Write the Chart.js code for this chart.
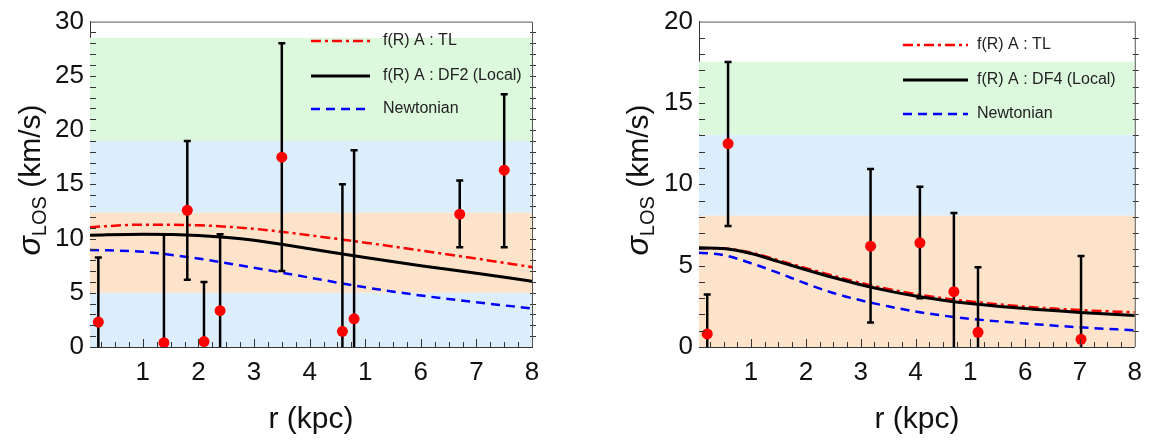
<!DOCTYPE html>
<html>
<head>
<meta charset="utf-8">
<script src="https://cdn.jsdelivr.net/npm/chart.js@4"></script>
<style>
  body { margin: 0; background: #fff; }
  #wrap { position: relative; width: 1152px; height: 446px; }
  canvas { position: absolute; top: 0; }
</style>
</head>
<body>
<div id="wrap">
  <canvas id="left" width="576" height="446" style="left:0"></canvas>
  <canvas id="right" width="576" height="446" style="left:576px"></canvas>
</div>
<script>
// x ticks (the 5 kpc tick carries the label "1")
const xTickValues = [1, 2, 3, 4, 5, 6, 7, 8];
const xTickLabels = ['1', '2', '3', '4', '1', '6', '7', '8'];

// ---- left panel ----
const leftR = [0.2, 1.38, 1.8, 2.1, 2.39, 3.5, 4.59, 4.8, 6.7, 7.5];
const leftSigma = [2.3, 0.4, 12.6, 0.5, 3.35, 17.5, 1.45, 2.6, 12.25, 16.3];
const leftLo = [0, 0, 6.2, 0, 0, 7.0, 0, 0, 9.2, 9.2];
const leftHi = [8.25, 10.4, 19.0, 6.0, 10.4, 28.0, 15.0, 18.15, 15.35, 23.3];

const leftCurveR = [0.05, 1, 2, 3, 4, 5, 6, 7, 8];
const leftTL = [11.05, 11.28, 11.22, 10.9, 10.3, 9.62, 8.9, 8.15, 7.37];
const leftDF2 = [10.3, 10.4, 10.28, 9.85, 9.05, 8.25, 7.5, 6.8, 6.07];
const leftNewton = [8.95, 8.78, 8.15, 7.3, 6.4, 5.5, 4.75, 4.12, 3.55];

const leftBandEdges = [0, 5, 12.4, 19, 28.5];

// ---- right panel ----
const rightR = [0.2, 0.58, 3.18, 4.08, 4.7, 5.14, 7.02];
const rightSigma = [0.8, 12.5, 6.2, 6.4, 3.4, 0.9, 0.47];
const rightLo = [0, 7.43, 1.5, 3.0, 0, 0, 0];
const rightHi = [3.22, 17.52, 10.94, 9.85, 8.24, 4.9, 5.6];

const rightCurveR = [0.05, 0.5, 1, 1.5, 2, 2.5, 3, 3.5, 4, 4.5, 5, 6, 7, 8];
const rightTL = [6.08, 6.05, 5.8, 5.33, 4.85, 4.38, 3.94, 3.56, 3.25, 3.0, 2.8, 2.48, 2.27, 2.13];
const rightDF4 = [6.1, 6.05, 5.75, 5.25, 4.75, 4.27, 3.83, 3.45, 3.13, 2.88, 2.68, 2.36, 2.12, 1.93];
const rightNewton = [5.8, 5.65, 5.15, 4.55, 3.9, 3.32, 2.87, 2.5, 2.18, 1.93, 1.73, 1.45, 1.21, 1.03];

const rightBandEdges = [0, 8.08, 13.05, 17.54];

const GREEN = '#ddf9dd', BLUE = '#dcedfc', ORANGE = '#fde3ca';
const FONT = '"Liberation Sans", Arial, Helvetica, sans-serif';

const pts = (xs, ys) => xs.map((x, i) => ({ x: x, y: ys[i] }));

// bands, error bars, inner ticks, frame, legend and the y title
const panelDecor = {
    id: 'panelDecor',
    beforeDatasetsDraw(chart, args, opts) {
        const { ctx, chartArea: a, scales: { y } } = chart;
        ctx.save();
        for (let i = 0; i < opts.bandEdges.length - 1; i++) {
            const top = y.getPixelForValue(opts.bandEdges[i + 1]);
            const bot = y.getPixelForValue(opts.bandEdges[i]);
            ctx.fillStyle = opts.bandColors[i];
            ctx.fillRect(a.left, top, a.right - a.left, bot - top);
        }
        ctx.restore();
    },
    beforeDatasetDraw(chart, args) {
        const ds = chart.data.datasets[args.index];
        if (!ds.errHi) return;
        const { ctx, chartArea: a, scales: { x, y } } = chart;
        ctx.save();
        ctx.beginPath();
        ctx.rect(a.left, a.top, a.right - a.left, a.bottom - a.top);
        ctx.clip();
        ctx.strokeStyle = '#000';
        ctx.lineWidth = 2.5;
        ds.data.forEach((p, i) => {
            const px = x.getPixelForValue(p.x);
            const top = y.getPixelForValue(ds.errHi[i]);
            const bot = y.getPixelForValue(ds.errLo[i]);
            ctx.beginPath();
            ctx.moveTo(px, top);
            ctx.lineTo(px, bot);
            ctx.moveTo(px - 3.5, top);
            ctx.lineTo(px + 3.5, top);
            if (ds.errLo[i] > 0) {
                ctx.moveTo(px - 3.5, bot);
                ctx.lineTo(px + 3.5, bot);
            }
            ctx.stroke();
        });
        ctx.restore();
    },
    afterDatasetsDraw(chart, args, opts) {
        const { ctx, chartArea: a, scales: { x, y } } = chart;
        ctx.save();
        ctx.strokeStyle = '#333';
        ctx.lineWidth = 1;
        // minor/major ticks on the bottom axis
        ctx.beginPath();
        for (let v = 0.25; v < x.max; v += 0.25) {
            const px = Math.round(x.getPixelForValue(v)) + 0.5;
            const len = Math.abs(v - Math.round(v)) < 1e-6 ? 8 : 5;
            ctx.moveTo(px, a.bottom);
            ctx.lineTo(px, a.bottom - len);
        }
        // ticks on the left (inside) and right (across) axes
        for (let v = 1; v < y.max; v += 1) {
            const py = Math.round(y.getPixelForValue(v)) + 0.5;
            ctx.moveTo(a.left, py);
            ctx.lineTo(a.left + 6, py);
            ctx.moveTo(a.right - 2, py);
            ctx.lineTo(a.right + 4, py);
        }
        ctx.stroke();
        // top and right frame
        ctx.strokeStyle = '#555';
        ctx.beginPath();
        ctx.moveTo(a.left, a.top + 0.5);
        ctx.lineTo(a.right + 0.5, a.top + 0.5);
        ctx.lineTo(a.right + 0.5, a.bottom);
        ctx.stroke();

        // legend
        const lg = opts.legend;
        ctx.font = '16px ' + FONT;
        ctx.textBaseline = 'middle';
        lg.items.forEach((it, i) => {
            const ly = lg.rows[i];
            ctx.strokeStyle = it.color;
            ctx.lineWidth = it.width;
            ctx.setLineDash(it.dash);
            ctx.beginPath();
            ctx.moveTo(lg.x0, ly);
            ctx.lineTo(lg.x1, ly);
            ctx.stroke();
            ctx.setLineDash([]);
            ctx.fillStyle = '#222';
            ctx.fillText(it.label, lg.textX, ly);
        });

        // y title: sigma with LOS subscript
        const t = opts.yTitle;
        ctx.translate(t.x, t.y);
        ctx.rotate(-Math.PI / 2);
        const fSig = 'italic 32px ' + FONT, fSub = '20px ' + FONT, fMain = '30px ' + FONT;
        ctx.font = fSig; const w1 = ctx.measureText('σ').width;
        ctx.font = fSub; const w2 = ctx.measureText('LOS').width;
        ctx.font = fMain; const w3 = ctx.measureText(' (km/s)').width;
        let cx = -(w1 + w2 + w3) / 2;
        ctx.fillStyle = '#111';
        ctx.textBaseline = 'alphabetic';
        ctx.font = fSig; ctx.fillText('σ', cx, 10); cx += w1;
        ctx.font = fSub; ctx.fillText('LOS', cx, 16); cx += w2;
        ctx.font = fMain; ctx.fillText(' (km/s)', cx, 10);
        ctx.restore();
    }
};

function makePanel(id, d) {
    return new Chart(id, {
        type: 'scatter',
        data: {
            datasets: [
                {
                    label: 'data',
                    data: pts(d.r, d.sigma),
                    errLo: d.lo,
                    errHi: d.hi,
                    pointRadius: 5.5,
                    pointBackgroundColor: '#ff0000',
                    pointBorderWidth: 0,
                    showLine: false
                },
                {
                    label: d.names[1],
                    data: pts(d.curveR, d.model),
                    showLine: true,
                    borderColor: '#000',
                    borderWidth: 3,
                    pointRadius: 0,
                    cubicInterpolationMode: 'monotone'
                },
                {
                    label: d.names[0],
                    data: pts(d.curveR, d.tl),
                    showLine: true,
                    borderColor: '#ff0000',
                    borderWidth: 2.5,
                    borderDash: [10, 4, 3, 4],
                    pointRadius: 0,
                    cubicInterpolationMode: 'monotone'
                },
                {
                    label: d.names[2],
                    data: pts(d.curveR, d.newton),
                    showLine: true,
                    borderColor: '#0000ff',
                    borderWidth: 2.5,
                    borderDash: [9, 6],
                    pointRadius: 0,
                    cubicInterpolationMode: 'monotone'
                }
            ]
        },
        options: {
            responsive: false,
            animation: false,
            events: [],
            layout: { padding: { top: 16, right: d.padRight, bottom: 0, left: 0 } },
            plugins: {
                legend: { display: false },
                tooltip: { enabled: false },
                panelDecor: {
                    bandEdges: d.bandEdges,
                    bandColors: d.bandColors,
                    legend: {
                        x0: d.legendX0, x1: d.legendX1, textX: d.legendTextX, rows: d.legendRows,
                        items: [
                            { label: d.names[0], color: '#ff0000', width: 2.5, dash: [10, 4, 3, 4] },
                            { label: d.names[1], color: '#000', width: 3, dash: [] },
                            { label: d.names[2], color: '#0000ff', width: 2.5, dash: [9, 6] }
                        ]
                    },
                    yTitle: d.yTitle
                }
            },
            scales: {
                x: {
                    type: 'linear',
                    min: 0.05,
                    max: 8,
                    grid: { display: false, drawTicks: false },
                    border: { display: true, color: '#333', width: 1 },
                    afterBuildTicks: s => { s.ticks = xTickValues.map(v => ({ value: v })); },
                    afterFit: s => { s.height = 99; },
                    ticks: {
                        padding: 10,
                        color: '#111',
                        font: { family: FONT, size: 26 },
                        callback: v => xTickLabels[xTickValues.indexOf(v)]
                    },
                    title: {
                        display: true,
                        text: 'r (kpc)',
                        color: '#111',
                        font: { family: FONT, size: 30 },
                        padding: { top: 0, bottom: 8 }
                    }
                },
                y: {
                    min: 0,
                    max: d.yMax,
                    grid: { display: false, drawTicks: false },
                    border: { display: true, color: '#333', width: 1 },
                    afterFit: s => { s.width = d.axisWidth; },
                    ticks: {
                        stepSize: 5,
                        padding: 6,
                        color: '#111',
                        font: { family: FONT, size: 26 }
                    }
                }
            }
        },
        plugins: [panelDecor]
    });
}

makePanel('left', {
    r: leftR, sigma: leftSigma, lo: leftLo, hi: leftHi,
    curveR: leftCurveR, tl: leftTL, model: leftDF2, newton: leftNewton,
    names: ['f(R) A : TL', 'f(R) A : DF2 (Local)', 'Newtonian'],
    bandEdges: leftBandEdges, bandColors: [BLUE, ORANGE, BLUE, GREEN],
    yMax: 30, axisWidth: 90, padRight: 44,
    legendX0: 311, legendX1: 370, legendTextX: 383, legendRows: [41, 76, 109],
    yTitle: { x: 30, y: 180 }
});

makePanel('right', {
    r: rightR, sigma: rightSigma, lo: rightLo, hi: rightHi,
    curveR: rightCurveR, tl: rightTL, model: rightDF4, newton: rightNewton,
    names: ['f(R) A : TL', 'f(R) A : DF4 (Local)', 'Newtonian'],
    bandEdges: rightBandEdges, bandColors: [ORANGE, BLUE, GREEN],
    yMax: 20, axisWidth: 123, padRight: 10,
    legendX0: 327, legendX1: 392, legendTextX: 401, legendRows: [45, 80, 114],
    yTitle: { x: 62, y: 180 }
});
</script>
</body>
</html>
